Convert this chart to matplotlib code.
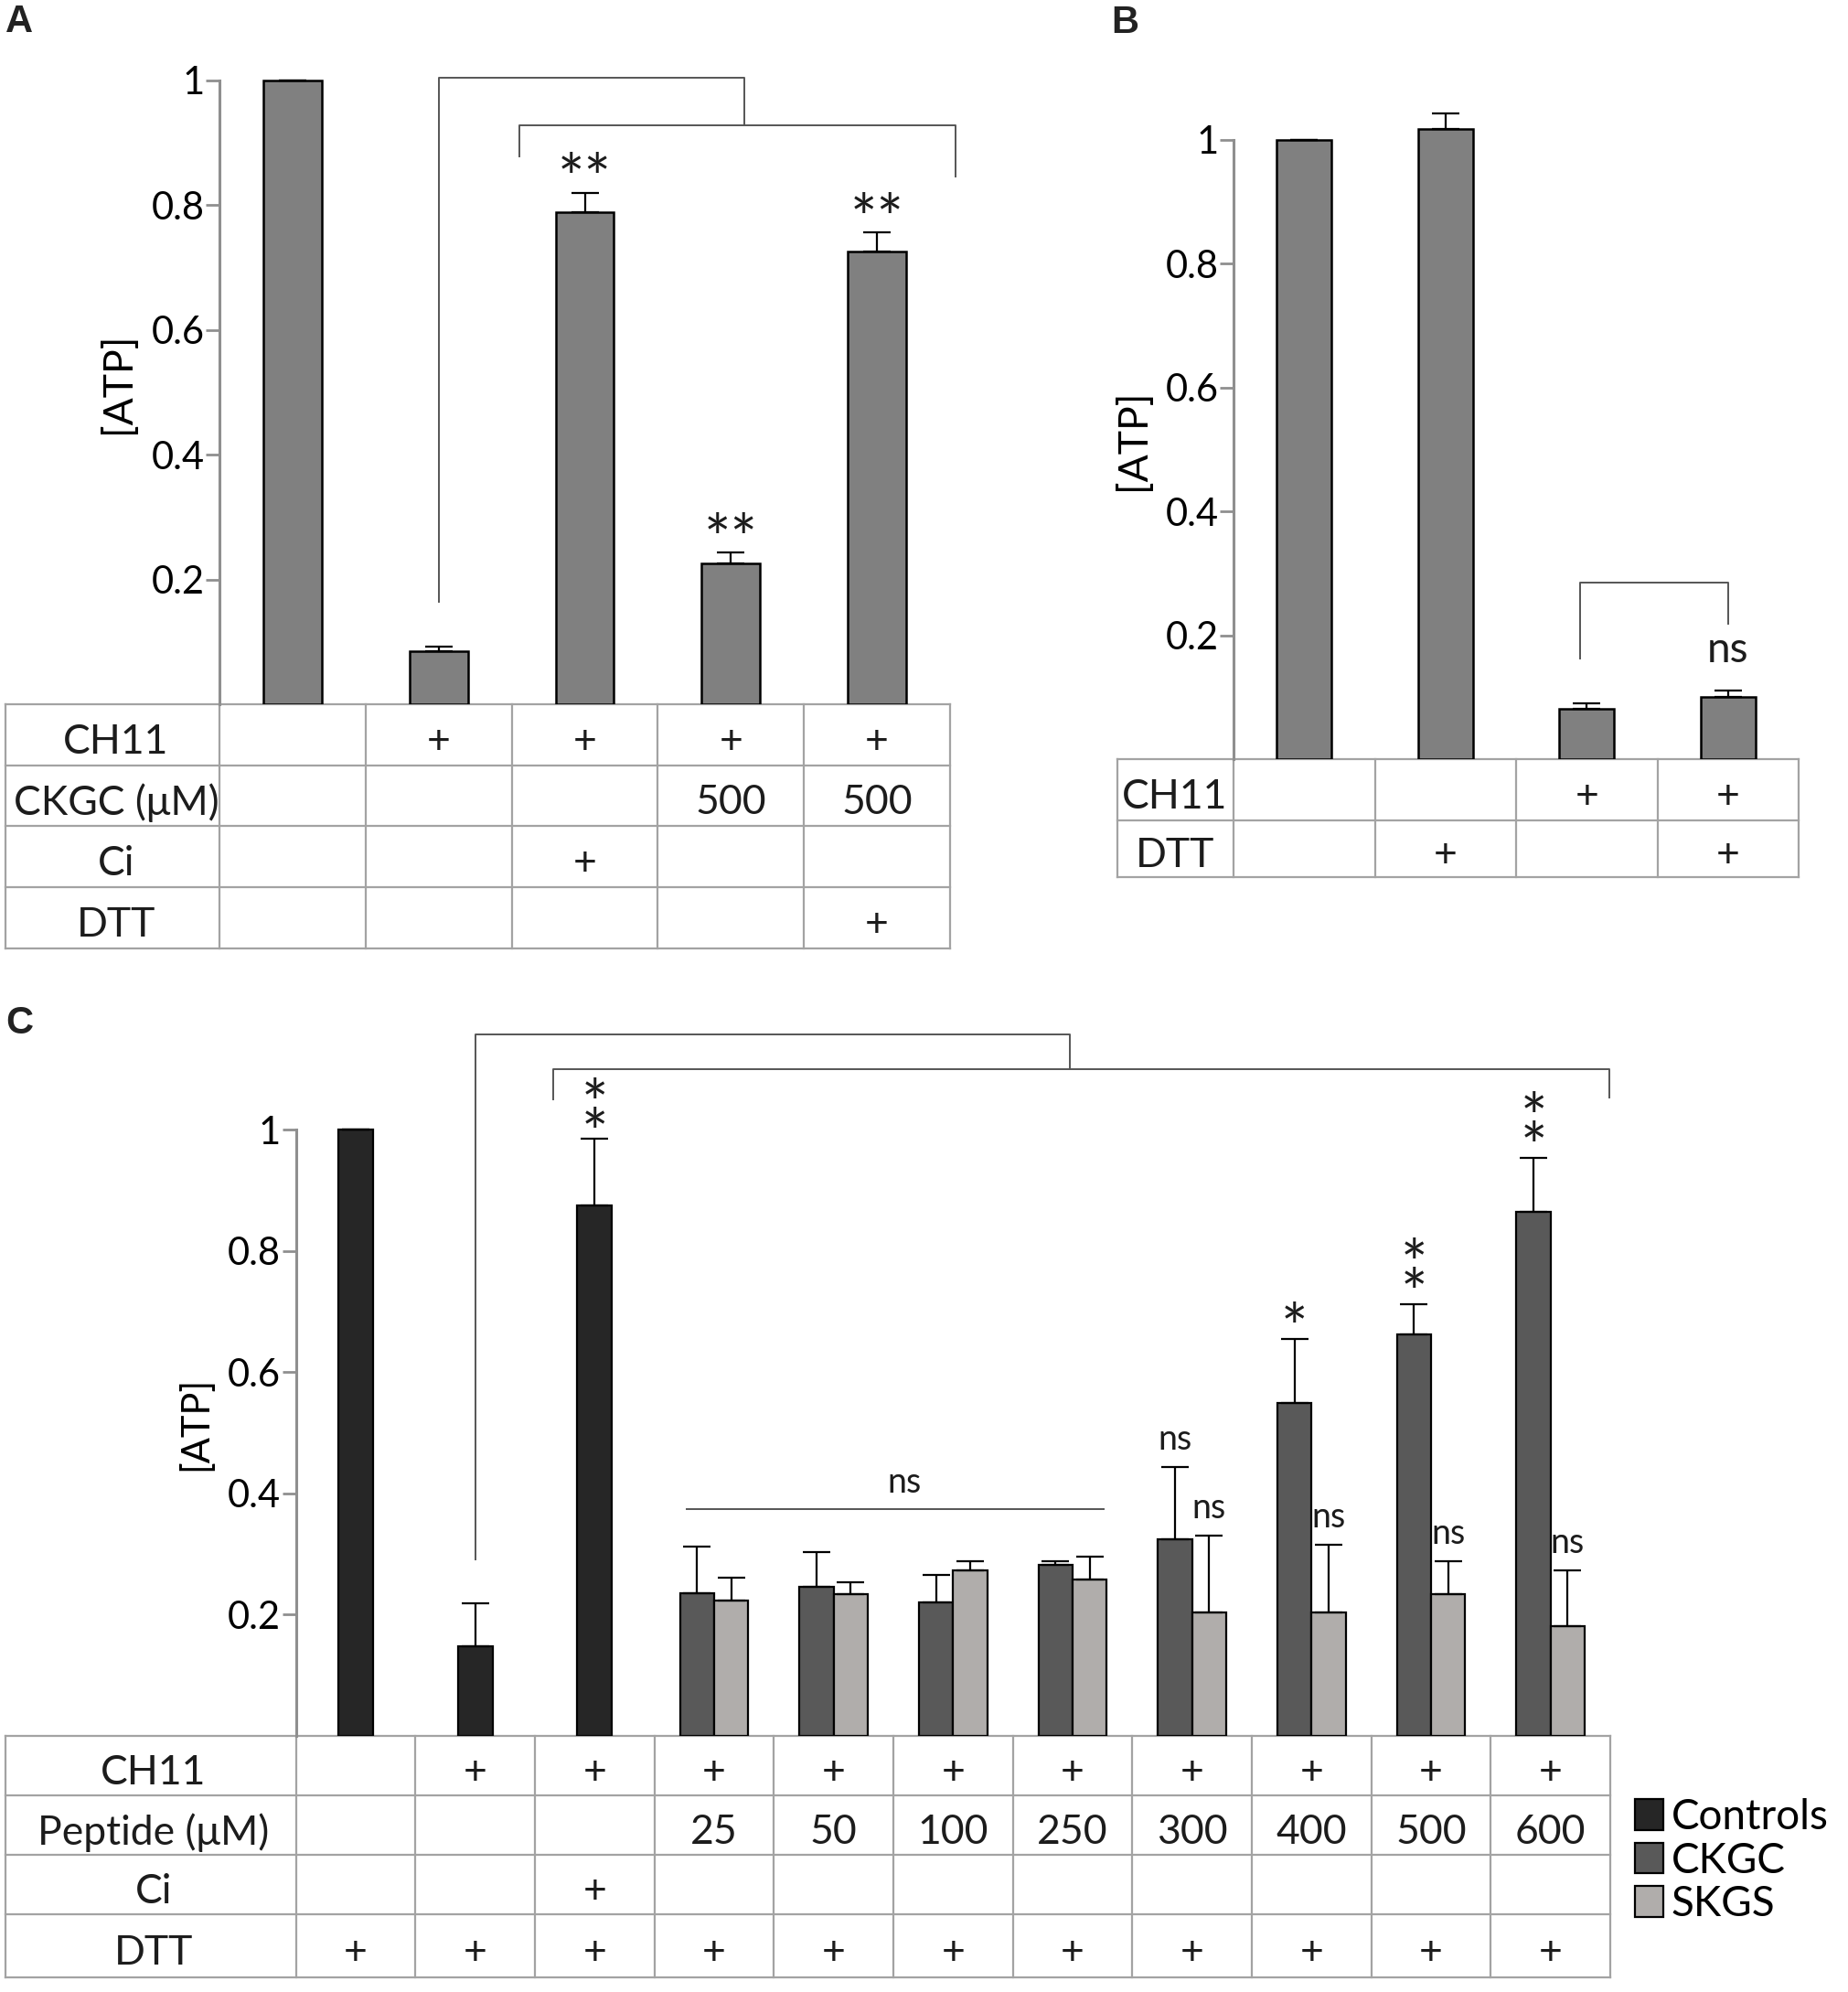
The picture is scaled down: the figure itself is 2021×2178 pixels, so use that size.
import numpy as np
import matplotlib
matplotlib.use("Agg")
import matplotlib.pyplot as plt

plt.rcParams['font.family'] = ['Lato', 'DejaVu Sans']

W, H = 2021, 2178
PT = 0.72  # points per pixel at dpi=100

GRID = '#a3a3a3'
AXIS = '#8f8f8f'
LINE = '#555555'
INK = '#1c1c1c'

# ---------------- panel A ----------------
a_values = [1.0, 0.085, 0.789, 0.225, 0.725]
a_errors = [0.0, 0.007, 0.031, 0.018, 0.031]
a_stars = ['', '', '**', '**', '**']
a_row_labels = ['CH11', 'CKGC (μM)', 'Ci', 'DTT']
a_cells = [['', '+', '+', '+', '+'],
           ['', '', '', '500', '500'],
           ['', '', '+', '', ''],
           ['', '', '', '', '+']]

# ---------------- panel B ----------------
b_values = [1.0, 1.018, 0.081, 0.101]
b_errors = [0.0, 0.024, 0.009, 0.010]
b_row_labels = ['CH11', 'DTT']
b_cells = [['', '', '+', '+'],
           ['', '+', '', '+']]

# ---------------- panel C ----------------
c_control_values = [1.0, 0.147, 0.875]
c_control_errors = [0.0, 0.071, 0.110]
c_control_marks = ['', '', '**']
c_doses = ['25', '50', '100', '250', '300', '400', '500', '600']
c_ckgc_values = [0.235, 0.246, 0.220, 0.281, 0.324, 0.549, 0.663, 0.865]
c_ckgc_errors = [0.077, 0.057, 0.045, 0.007, 0.119, 0.105, 0.049, 0.089]
c_ckgc_marks = ['', '', '', '', 'ns', '*', '**', '**']
c_skgs_values = [0.223, 0.234, 0.272, 0.257, 0.203, 0.203, 0.234, 0.180]
c_skgs_errors = [0.037, 0.019, 0.016, 0.039, 0.127, 0.112, 0.054, 0.092]
c_skgs_marks = ['', '', '', '', 'ns', 'ns', 'ns', 'ns']
c_row_labels = ['CH11', 'Peptide (μM)', 'Ci', 'DTT']
c_cells = [['', '+', '+'] + ['+'] * len(c_doses),
           ['', '', ''] + c_doses,
           ['', '', '+'] + [''] * len(c_doses),
           ['+', '+', '+'] + ['+'] * len(c_doses)]
c_legend = ['Controls', 'CKGC', 'SKGS']

STAR_FS = 50
STAR_CENTER = 0.575 * STAR_FS / PT   # asterisk centre above baseline, px
LINE_H = 1.02 * STAR_FS / PT         # baseline-to-baseline at linespacing 1, px

fig = plt.figure(figsize=(W / 100, H / 100), dpi=100)
tab = fig.add_axes([0, 0, 1, 1])
tab.set_xlim(0, W)
tab.set_ylim(H, 0)
tab.set_axis_off()


def bar_axes(x_axis, x_right, y_zero, y_one, ymax, n, tick_fs, label_fs):
    top = y_zero - ymax * (y_zero - y_one)
    ax = fig.add_axes([x_axis / W, 1 - y_zero / H,
                       (x_right - x_axis) / W, (y_zero - top) / H])
    ax.set_xlim(-0.5, n - 0.5)
    ax.set_ylim(0, ymax)
    ax.patch.set_visible(False)
    for s in ['top', 'right', 'bottom']:
        ax.spines[s].set_visible(False)
    ax.spines['left'].set_bounds(0, 1)
    ax.spines['left'].set_color(AXIS)
    ax.spines['left'].set_linewidth(2.2)
    ax.set_xticks([])
    ax.set_yticks([0.2, 0.4, 0.6, 0.8, 1.0])
    ax.set_yticklabels(['0.2', '0.4', '0.6', '0.8', '1'])
    ax.tick_params(axis='y', length=11, width=2, color=AXIS,
                   labelsize=tick_fs, labelcolor='black', pad=1)
    ax.annotate('[ATP]', xy=(0, 0.515), xycoords=('axes fraction', 'data'),
                xytext=(-110 * PT, 0), textcoords='offset points',
                rotation=90, ha='center', va='center', fontsize=label_fs)
    return ax


def draw_table(x_left, x_axis, x_right, rows, labels, cells, label_x, fs):
    ncol = len(cells[0])
    edges = np.linspace(x_axis, x_right, ncol + 1)
    centers = (edges[:-1] + edges[1:]) / 2
    for y in rows:
        tab.plot([x_left, x_right], [y, y], color=GRID, lw=1.6)
    for x in [x_left] + list(edges):
        tab.plot([x, x], [rows[0], rows[-1]], color=GRID, lw=1.6)
    for i, (lab, row) in enumerate(zip(labels, cells)):
        yc = (rows[i] + rows[i + 1]) / 2 + 4
        tab.text(label_x, yc, lab, ha='center', va='center_baseline', fontsize=fs, color=INK)
        for cx, cell in zip(centers, row):
            tab.text(cx, yc, cell, ha='center', va='center_baseline', fontsize=fs, color=INK)


def bracket(ax, xs, ys):
    ax.plot(xs, ys, color=LINE, lw=1.4, clip_on=False)


def stars(ax, x, top, text, lift_px, stacked=True, step_px=28):
    # lift_px: height of the (lowest) asterisk centre above the error bar top
    s = '\n'.join(text) if stacked else text
    ax.annotate(s, (x, top), xytext=(0, (lift_px - STAR_CENTER) * PT),
                textcoords='offset points', ha='center', va='baseline',
                fontsize=STAR_FS, color=INK, linespacing=step_px / LINE_H)


ekw = dict(elinewidth=1.6, capthick=1.6, ecolor='black')

# ---------------- A ----------------
axA = bar_axes(240, 1039, 770, 87.7, 1.1, len(a_values), 30, 32)
xa = np.arange(len(a_values))
axA.bar(xa, a_values, 0.4, color='#808080', edgecolor='black', linewidth=1.8,
        yerr=[np.zeros(len(a_values)), a_errors], capsize=10.5, error_kw=ekw, zorder=3)
for i, s in enumerate(a_stars):
    if s:
        stars(axA, i, a_values[i] + a_errors[i], s, 31, stacked=False)
bracket(axA, [1, 1, 3.09, 3.09], [0.164, 1.004, 1.004, 0.928])
bracket(axA, [1.55, 1.55, 4.54, 4.54], [0.878, 0.928, 0.928, 0.846])
draw_table(6, 240, 1039, [770, 837, 903, 970, 1037], a_row_labels, a_cells, 127, 32)

# ---------------- B ----------------
axB = bar_axes(1349, 1967, 830, 152.8, 1.1, len(b_values), 30, 32)
xb = np.arange(len(b_values))
axB.bar(xb, b_values, 0.39, color='#808080', edgecolor='black', linewidth=1.8,
        yerr=[np.zeros(len(b_values)), b_errors], capsize=10.5, error_kw=ekw, zorder=3)
bracket(axB, [1.95, 1.95, 3, 3], [0.162, 0.2855, 0.2855, 0.219])
axB.text(3, 0.176, 'ns', ha='center', va='center', fontsize=33, color=INK)
draw_table(1222, 1349, 1967, [830, 897, 959], b_row_labels, b_cells, 1285, 32)

# ---------------- C ----------------
axC = bar_axes(323.6, 1761, 1897.5, 1235.4, 1.2, 11, 30, 30)
xc = np.arange(len(c_control_values))
xg = np.arange(len(c_doses)) + len(c_control_values)
bw = 0.285
ctrl = axC.bar(xc, c_control_values, 0.29, color='#262626', edgecolor='black', linewidth=1.6,
               yerr=[np.zeros(3), c_control_errors], capsize=10.5, error_kw=ekw, zorder=3)
ckgc = axC.bar(xg - bw / 2, c_ckgc_values, bw, color='#595959', edgecolor='black', linewidth=1.6,
               yerr=[np.zeros(len(c_doses)), c_ckgc_errors], capsize=10.5, error_kw=ekw, zorder=3)
skgs = axC.bar(xg + bw / 2, c_skgs_values, bw, color='#b0adab', edgecolor='black', linewidth=1.6,
               yerr=[np.zeros(len(c_doses)), c_skgs_errors], capsize=10.5, error_kw=ekw, zorder=3)


def mark_group(xs, vals, errs, marks, lift):
    for x, v, e, m in zip(xs, vals, errs, marks):
        if m == 'ns':
            axC.annotate('ns', (x, v + e), xytext=(0, 30 * PT), textcoords='offset points',
                         ha='center', va='center', fontsize=27, color=INK)
        elif m:
            stars(axC, x, v + e, m, lift)


mark_group(xc, c_control_values, c_control_errors, c_control_marks, 22)
mark_group(xg - bw / 2, c_ckgc_values, c_ckgc_errors, c_ckgc_marks, 28)
mark_group(xg + bw / 2, c_skgs_values, c_skgs_errors, c_skgs_marks, 28)

axC.plot([2.77, 6.26], [0.374, 0.374], color=LINE, lw=1.4)
axC.text(4.59, 0.418, 'ns', ha='center', va='center', fontsize=27, color=INK)
bracket(axC, [1, 1, 5.98, 5.98], [0.291, 1.158, 1.158, 1.1])
bracket(axC, [1.65, 1.65, 10.49, 10.49], [1.051, 1.1, 1.1, 1.054])

draw_table(6, 323.6, 1761, [1897.5, 1963, 2028, 2093, 2162], c_row_labels, c_cells, 168, 32)

axC.legend([ctrl, ckgc, skgs], c_legend, loc='upper left',
           bbox_to_anchor=(1788 / W, 1 - 1966 / H), bbox_transform=fig.transFigure,
           frameon=False, fontsize=33, handlelength=0.68, handleheight=0.76,
           handletextpad=0.18, labelspacing=0.12, borderpad=0, borderaxespad=0)

# panel letters
for lab, x, y in [('A', 21, 24), ('B', 1230, 25), ('C', 21, 1119)]:
    fig.text(x / W, 1 - y / H, lab, ha='center', va='center', fontsize=30,
             fontweight='bold', family=['Liberation Sans', 'DejaVu Sans'], color='#222222')

fig.savefig('out.png', dpi=100, facecolor='white')
